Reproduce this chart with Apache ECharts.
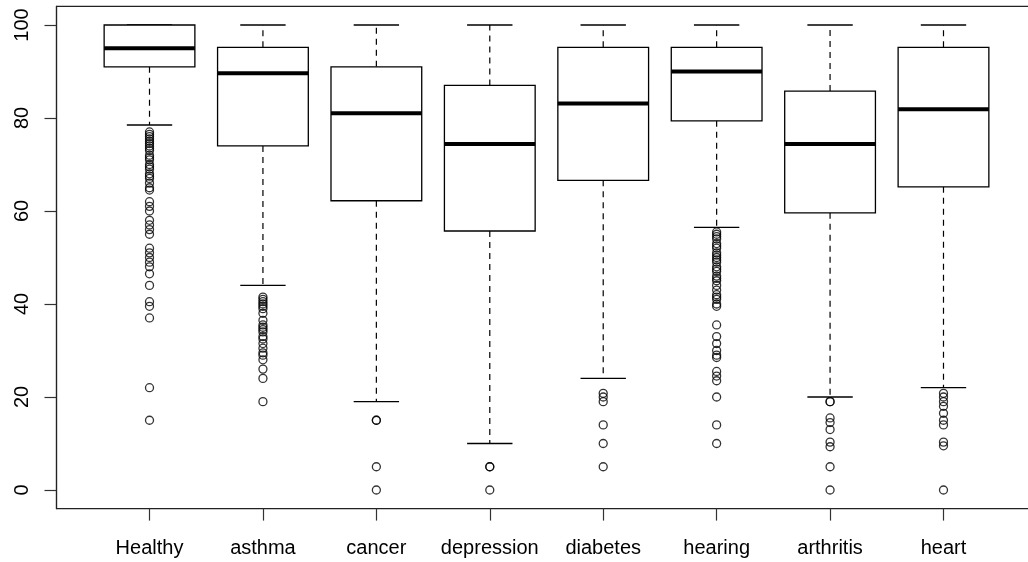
<!DOCTYPE html>
<html>
<head>
<meta charset="utf-8">
<script src="https://cdn.jsdelivr.net/npm/echarts@6/dist/echarts.min.js"></script>
<style>
html,body{margin:0;padding:0;background:#fff;}
#chart{width:1028px;height:562px;}
</style>
</head>
<body>
<div id="chart"></div>
<script>
const categories = ['Healthy', 'asthma', 'cancer', 'depression', 'diabetes', 'hearing', 'arthritis', 'heart'];
const lowerWhisker = [78.5, 44, 19, 10, 24, 56.5, 20, 22];
const q1 = [91, 74, 62.2, 55.7, 66.6, 79.4, 59.6, 65.2];
const median = [95, 89.6, 81, 74.4, 83.1, 90, 74.4, 81.9];
const q3 = [100, 95.2, 91, 87, 95.2, 95.2, 85.8, 95.2];
const upperWhisker = [100, 100, 100, 100, 100, 100, 100, 100];
const outliersHealthy = [77, 76.5, 76, 75.5, 75, 74.5, 74, 73.5, 73, 72, 71.5, 71, 70, 69.5, 69, 68, 67.5, 67, 66, 65, 64.5, 62, 61, 60, 58, 57, 56, 55, 52, 51, 50, 49, 48, 46.5, 44, 40.5, 39.5, 37, 22, 15];
const outliersAsthma = [41.5, 41, 40.5, 40, 39.5, 39, 38, 36.5, 35.5, 35, 34.5, 34, 33, 32.5, 31.5, 30.5, 29.5, 29, 28, 26, 24, 19];
const outliersCancer = [15, 15, 5, 0];
const outliersDepression = [5, 5, 0];
const outliersDiabetes = [20.8, 20, 19, 14, 10, 5];
const outliersHearing = [55.5, 55, 54.5, 54, 53, 52.5, 52, 51, 50.5, 50, 49.5, 49, 48, 47.5, 47, 46, 45.5, 45, 44, 43, 42, 41.5, 41, 40, 39.5, 35.5, 33, 31.5, 30, 29, 28.5, 25.5, 24.5, 23.5, 20, 14, 10];
const outliersArthritis = [19, 19, 15.5, 14.5, 13, 10.3, 9.3, 5, 0];
const outliersHeart = [20.8, 20, 19, 18, 16.5, 15, 14, 10.3, 9.5, 0];
const yTicks = [0, 20, 40, 60, 80, 100];

const outlierLists = [outliersHealthy, outliersAsthma, outliersCancer, outliersDepression, outliersDiabetes, outliersHearing, outliersArthritis, outliersHeart];
const boxData = categories.map((c, i) => [i + 1, lowerWhisker[i], q1[i], median[i], q3[i], upperWhisker[i]]);
const outlierData = [];
outlierLists.forEach((arr, i) => arr.forEach(v => outlierData.push([i + 1, v])));
const xPositions = categories.map((c, i) => i + 1);

const FONT = '"Liberation Sans", Arial, sans-serif';

function renderBox(params, api) {
  const x = api.value(0);
  const lo = api.value(1), a = api.value(2), m = api.value(3), b = api.value(4), hi = api.value(5);
  const halfW = api.size([0.8, 0])[0] / 2;
  const capHalf = halfW / 2;
  const pLo = api.coord([x, lo]);
  const pA = api.coord([x, a]);
  const pM = api.coord([x, m]);
  const pB = api.coord([x, b]);
  const pHi = api.coord([x, hi]);
  const cx = pM[0];
  const dashStyle = { stroke: '#000', lineWidth: 1.2, lineDash: [6, 5], fill: null };
  const solid = { stroke: '#000', lineWidth: 1.3, fill: null };
  return {
    type: 'group',
    children: [
      { type: 'line', shape: { x1: cx, y1: pA[1], x2: cx, y2: pLo[1] }, style: dashStyle },
      { type: 'line', shape: { x1: cx, y1: pB[1], x2: cx, y2: pHi[1] }, style: dashStyle },
      { type: 'line', shape: { x1: cx - capHalf, y1: pLo[1], x2: cx + capHalf, y2: pLo[1] }, style: solid },
      { type: 'line', shape: { x1: cx - capHalf, y1: pHi[1], x2: cx + capHalf, y2: pHi[1] }, style: solid },
      { type: 'rect', shape: { x: cx - halfW, y: pB[1], width: 2 * halfW, height: pA[1] - pB[1] }, style: { stroke: '#000', lineWidth: 1.3, fill: '#fff' } },
      { type: 'line', shape: { x1: cx - halfW, y1: pM[1], x2: cx + halfW, y2: pM[1] }, style: { stroke: '#000', lineWidth: 4 } }
    ]
  };
}

const chart = echarts.init(document.getElementById('chart'), null, { renderer: 'canvas' });
chart.setOption({
  animation: false,
  backgroundColor: '#fff',
  grid: {
    left: 56.5, right: -8.5, top: 6.4, bottom: 53.4,
    show: true, borderColor: '#222', borderWidth: 1.2, backgroundColor: 'transparent',
    containLabel: false, outerBoundsMode: 'none'
  },
  xAxis: {
    type: 'value', min: 0.18, max: 8.82,
    splitLine: { show: false },
    axisLine: { show: true, onZero: false, lineStyle: { color: '#222', width: 1.2 } },
    axisTick: { show: true, customValues: xPositions, length: 12, lineStyle: { color: '#333', width: 1.2 } },
    axisLabel: {
      show: true, customValues: xPositions, margin: 30,
      formatter: v => categories[Math.round(v) - 1] || '',
      color: '#000', fontSize: 20, fontFamily: FONT
    }
  },
  yAxis: {
    type: 'value', min: -4, max: 104,
    splitLine: { show: false },
    axisLine: { show: true, onZero: false, lineStyle: { color: '#222', width: 1.2 } },
    axisTick: { show: true, customValues: yTicks, length: 12, lineStyle: { color: '#333', width: 1.2 } },
    axisLabel: {
      show: true, customValues: yTicks, rotate: 90, margin: 24,
      color: '#000', fontSize: 20, fontFamily: FONT
    }
  },
  series: [
    {
      type: 'custom',
      renderItem: renderBox,
      data: boxData,
      encode: { x: 0, y: [1, 2, 3, 4, 5] },
      clip: false,
      z: 2
    },
    {
      type: 'scatter',
      data: outlierData,
      symbol: 'circle',
      symbolSize: 8,
      itemStyle: { color: 'rgba(255,255,255,0)', borderColor: '#000', borderWidth: 1.3 },
      z: 3
    }
  ]
});
</script>
</body>
</html>
